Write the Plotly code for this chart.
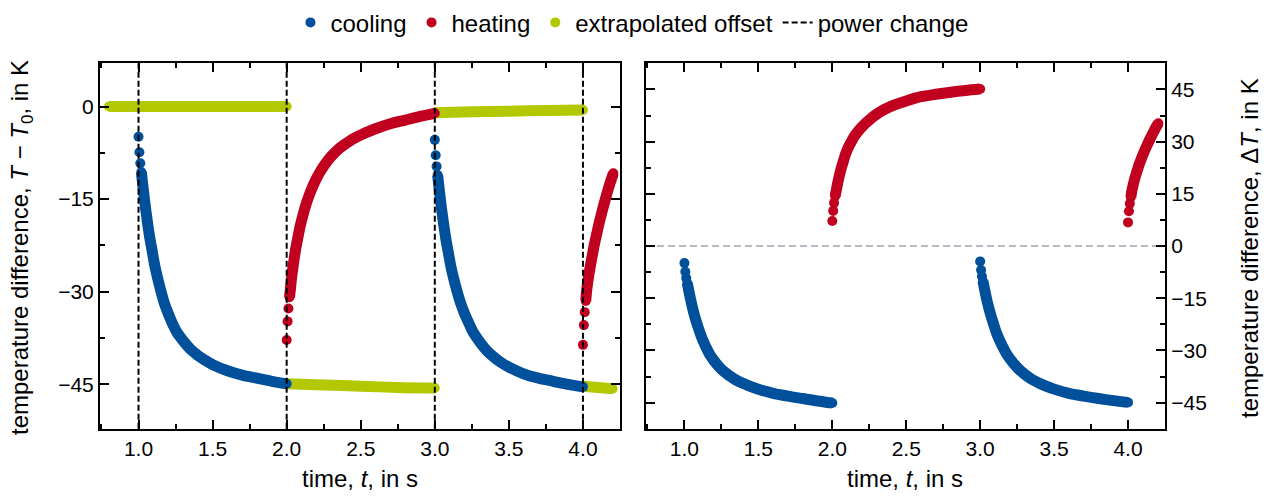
import plotly.graph_objects as go

# ---------------- data ----------------
# time since the power change, in s
tau_full = [0.000, 0.006, 0.012, 0.019, 0.025, 0.035, 0.045, 0.060, 0.075, 0.090,
            0.110, 0.130, 0.150, 0.175, 0.200, 0.230, 0.260, 0.300, 0.350, 0.400,
            0.450, 0.500, 0.600, 0.700, 0.800, 0.900, 1.000]
tau_short = [0.000, 0.006, 0.012, 0.019, 0.025, 0.035, 0.045, 0.060, 0.075, 0.090,
             0.110, 0.130, 0.150, 0.175, 0.190, 0.205]

cooling_starts = [1.0, 3.0]
heating_starts = [2.0, 4.0]
power_change_times = [1.0, 2.0, 3.0, 4.0]

# left panel: T - T0, in K
cooling_T_1 = [-4.9, -7.4, -9.2, -10.6, -11.9, -14.0, -16.0, -18.7, -21.1, -23.1,
               -25.8, -27.9, -29.8, -31.9, -33.5, -35.2, -36.6, -37.9, -39.3, -40.3,
               -41.1, -41.8, -42.8, -43.5, -44.0, -44.5, -44.9]
cooling_T_2 = [-5.4, -7.9, -9.7, -11.1, -12.4, -14.5, -16.5, -19.1, -21.5, -23.5,
               -26.1, -28.1, -29.9, -31.9, -33.5, -35.1, -36.6, -38.0, -39.5, -40.6,
               -41.5, -42.2, -43.3, -44.0, -44.5, -45.0, -45.4]
heating_T_1 = [-37.8, -34.8, -32.7, -30.9, -29.6, -27.4, -25.6, -23.2, -21.3, -19.5,
               -17.6, -15.9, -14.5, -13.0, -11.7, -10.4, -9.3, -8.1, -6.9, -6.0,
               -5.2, -4.6, -3.6, -2.8, -2.2, -1.6, -1.1]
heating_T_2 = [-38.6, -35.4, -33.3, -31.5, -29.8, -28.0, -26.5, -24.5, -22.6, -20.9,
               -18.8, -16.9, -15.1, -13.0, -11.9, -10.8]

offset_time_0 = [0.80, 1.00, 1.25, 1.50, 1.75, 2.00]
offset_0 = [0.0, 0.0, 0.0, 0.0, 0.0, 0.0]
offset_time_1 = [2.00, 2.25, 2.50, 2.75, 3.00]
offset_1 = [-44.9, -45.1, -45.3, -45.5, -45.6]
offset_time_2 = [3.00, 3.25, 3.50, 3.75, 4.00]
offset_2 = [-1.0, -0.85, -0.75, -0.65, -0.55]
offset_time_3 = [4.00, 4.10, 4.20]
offset_3 = [-45.3, -45.5, -45.7]

# right panel: Delta T, in K
cooling_dT_1 = [-4.9, -7.4, -9.2, -10.6, -11.9, -14.0, -16.0, -18.7, -21.0, -23.0,
                -25.5, -27.6, -29.4, -31.4, -32.9, -34.5, -35.8, -37.1, -38.5, -39.5,
                -40.4, -41.1, -42.3, -43.1, -43.8, -44.5, -45.1]
cooling_dT_2 = [-4.4, -6.9, -8.7, -10.1, -11.4, -13.5, -15.5, -18.0, -20.3, -22.3,
                -24.9, -26.9, -28.7, -30.7, -32.3, -33.9, -35.3, -36.8, -38.3, -39.4,
                -40.3, -41.1, -42.3, -43.1, -43.8, -44.4, -44.9]
heating_dT_1 = [7.2, 10.1, 12.4, 14.3, 15.6, 17.8, 19.8, 22.3, 24.4, 26.5,
                28.5, 30.1, 31.6, 33.0, 34.2, 35.5, 36.6, 37.9, 39.2, 40.2,
                41.0, 41.7, 42.9, 43.6, 44.2, 44.7, 45.1]
heating_dT_2 = [6.8, 10.0, 12.2, 14.0, 15.7, 17.6, 19.3, 21.4, 23.4, 25.1,
                27.2, 29.1, 30.9, 33.0, 34.2, 35.3]

# ---------------- style ----------------
BLUE = '#00509B'
RED = '#C1001F'
GREEN = '#B3C800'
FONT = 'Liberation Sans, Arial, Helvetica, sans-serif'
FS_TICK = 21
FS_TITLE = 24
FS_LEG = 24
W, H = 1269, 497
MS = 10
LW = 11

fig = go.Figure()


def add_series(x, y, color, name, show, rank, xa, ya, join_from=3):
    fig.add_trace(go.Scatter(x=x[join_from:], y=y[join_from:], mode='lines',
                             line=dict(color=color, width=LW, shape='spline', smoothing=0.8),
                             showlegend=False, hoverinfo='skip', xaxis=xa, yaxis=ya))
    fig.add_trace(go.Scatter(x=x, y=y, mode='markers',
                             marker=dict(color=color, size=MS, line=dict(width=0)),
                             name=name, legendgroup=name, showlegend=show,
                             legendrank=rank, xaxis=xa, yaxis=ya))


def shift(start, taus):
    return [start + t for t in taus]


# left panel
for i, (ot, ov) in enumerate([(offset_time_0, offset_0), (offset_time_1, offset_1),
                              (offset_time_2, offset_2), (offset_time_3, offset_3)]):
    add_series(ot, ov, GREEN, 'extrapolated offset', i == 0, 3, 'x', 'y', join_from=0)

add_series(shift(cooling_starts[0], tau_full), cooling_T_1, BLUE, 'cooling', True, 1, 'x', 'y')
add_series(shift(heating_starts[0], tau_full), heating_T_1, RED, 'heating', True, 2, 'x', 'y')
add_series(shift(cooling_starts[1], tau_full), cooling_T_2, BLUE, 'cooling', False, 1, 'x', 'y')
add_series(shift(heating_starts[1], tau_short), heating_T_2, RED, 'heating', False, 2, 'x', 'y')

# right panel
add_series(shift(cooling_starts[0], tau_full), cooling_dT_1, BLUE, 'cooling', False, 1, 'x2', 'y2')
add_series(shift(heating_starts[0], tau_full), heating_dT_1, RED, 'heating', False, 2, 'x2', 'y2')
add_series(shift(cooling_starts[1], tau_full), cooling_dT_2, BLUE, 'cooling', False, 1, 'x2', 'y2')
add_series(shift(heating_starts[1], tau_short), heating_dT_2, RED, 'heating', False, 2, 'x2', 'y2')

DASH = '6px,3px'
# legend entry for the power change lines
fig.add_trace(go.Scatter(x=[None], y=[None], mode='lines', name='power change',
                         line=dict(color='black', width=2, dash=DASH),
                         legendrank=4, xaxis='x', yaxis='y'))

for t in power_change_times:
    fig.add_shape(type='line', xref='x', yref='y domain', x0=t, x1=t, y0=0, y1=1,
                  line=dict(color='black', width=2, dash=DASH), layer='above')

fig.add_shape(type='line', xref='x2 domain', yref='y2', x0=0, x1=1, y0=0, y1=0,
              line=dict(color='#B5BCC3', width=2, dash='7px,4px'), layer='below')

ydom = [1 - 428 / H, 1 - 58 / H]
axis_common = dict(showline=True, linecolor='black', linewidth=2, mirror='ticks',
                   ticks='inside', ticklen=9, tickwidth=1.5, tickcolor='black',
                   showgrid=False, zeroline=False,
                   tickfont=dict(family=FONT, size=FS_TICK, color='black'))

xcommon = dict(axis_common, range=[0.74, 4.25], tick0=0, dtick=0.5, tickformat='.1f',
               minor=dict(tick0=0, dtick=0.25, ticks='inside', ticklen=5,
                          tickwidth=1.5, tickcolor='black'))
ycommon = dict(axis_common, tick0=0, dtick=15,
               minor=dict(tick0=0, dtick=7.5, ticks='inside', ticklen=5,
                          tickwidth=1.5, tickcolor='black'))

fig.update_layout(
    width=W, height=H,
    margin=dict(l=0, r=0, t=0, b=0),
    paper_bgcolor='white', plot_bgcolor='white',
    font=dict(family=FONT, size=FS_TICK, color='black'),
    xaxis=dict(xcommon, domain=[100 / W, 620 / W], anchor='y'),
    xaxis2=dict(xcommon, domain=[646 / W, 1165 / W], anchor='y2'),
    yaxis=dict(ycommon, domain=ydom, range=[-52.2, 7.0], anchor='x'),
    yaxis2=dict(ycommon, domain=ydom, range=[-52.5, 52.5], anchor='x2', side='right'),
    legend=dict(orientation='h', x=0.498, xanchor='center', y=1 - 17 / H, yanchor='middle',
                font=dict(family=FONT, size=FS_LEG, color='black'), bgcolor='rgba(0,0,0,0)',
                itemsizing='trace', traceorder='normal'),
    showlegend=True,
)

ann_font = dict(family=FONT, size=FS_TITLE, color='black')
fig.add_annotation(x=21 / W, y=1 - 245 / H, xref='paper', yref='paper', showarrow=False,
                   textangle=-90, xanchor='center', yanchor='middle', font=ann_font,
                   text='temperature difference, <i>T</i> − <i>T</i><sub>0</sub>, in K')
fig.add_annotation(x=1249 / W, y=1 - 245 / H, xref='paper', yref='paper', showarrow=False,
                   textangle=-90, xanchor='center', yanchor='middle', font=ann_font,
                   text='temperature difference, Δ<i>T</i>, in K')
fig.add_annotation(x=360 / W, y=1 - 478 / H, xref='paper', yref='paper', showarrow=False,
                   xanchor='center', yanchor='middle', font=ann_font,
                   text='time, <i>t</i>, in s')
fig.add_annotation(x=905 / W, y=1 - 478 / H, xref='paper', yref='paper', showarrow=False,
                   xanchor='center', yanchor='middle', font=ann_font,
                   text='time, <i>t</i>, in s')

fig.write_html('out.html', post_script="document.body.style.margin='0';",
               config={'displayModeBar': False})
